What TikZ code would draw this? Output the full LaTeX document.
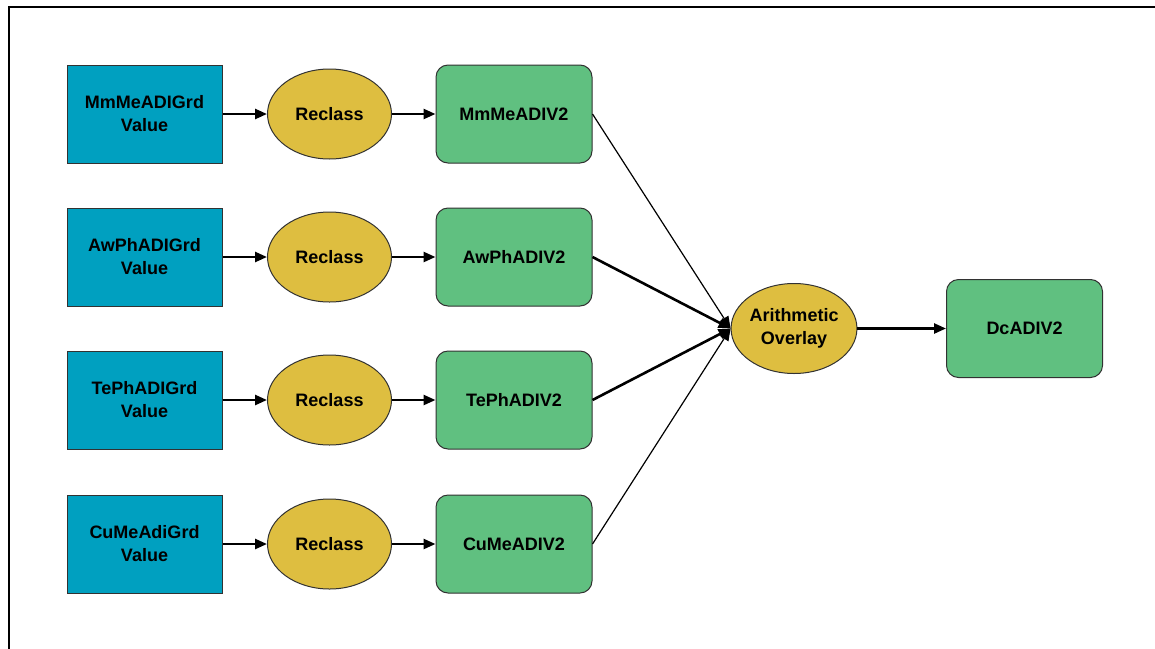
\documentclass[tikz,border=0pt]{standalone}
\usepackage{fontspec}
\setmainfont{Liberation Sans}
\usetikzlibrary{arrows.meta,shapes.geometric}
\definecolor{gridblue}{RGB}{0,160,192}
\definecolor{procyellow}{RGB}{222,190,64}
\definecolor{outgreen}{RGB}{96,192,128}
\definecolor{edgegray}{RGB}{50,50,50}
\tikzset{
  lbl/.style={font=\bfseries\fontsize{18}{23}\selectfont, align=center, text=black},
  gridbox/.style={lbl, draw=edgegray, line width=1pt, fill=gridblue, rectangle, minimum width=155pt, minimum height=98pt, inner sep=0pt},
  procell/.style={lbl, draw=edgegray, line width=1pt, fill=procyellow, ellipse, minimum width=124pt, minimum height=90pt, inner sep=0pt},
  outbox/.style={lbl, draw=edgegray, line width=1pt, fill=outgreen, rectangle, rounded corners=12pt, minimum width=156pt, minimum height=98pt, inner sep=0pt},
  flow/.style={line width=2.5pt, -{Triangle[length=12pt,width=10pt]}},
  thinflow/.style={line width=1.2pt, -{Triangle[length=12pt,width=10pt]}},
  thickflow/.style={line width=2.6pt, -{Triangle[length=12pt,width=10pt]}},
}
\begin{document}
\begin{tikzpicture}[x=1pt,y=-1pt]
\useasboundingbox (0,0) rectangle (1155,648);
\fill[white] (0,0) rectangle (1155,648);
\draw[line width=2.4pt] (9,700) -- (9,7) -- (1200,7);

\node[gridbox] (g1) at (144.5,114) {MmMeADIGrd\\Value};
\node[gridbox] (g2) at (144.5,257) {AwPhADIGrd\\Value};
\node[gridbox] (g3) at (144.5,400) {TePhADIGrd\\Value};
\node[gridbox] (g4) at (144.5,544) {CuMeAdiGrd\\Value};

\node[procell] (r1) at (329.5,114) {Reclass};
\node[procell] (r2) at (329.5,257) {Reclass};
\node[procell] (r3) at (329.5,400) {Reclass};
\node[procell] (r4) at (329.5,544) {Reclass};

\node[outbox] (o1) at (514,114) {MmMeADIV2};
\node[outbox] (o2) at (514,257) {AwPhADIV2};
\node[outbox] (o3) at (514,400) {TePhADIV2};
\node[outbox] (o4) at (514,544) {CuMeADIV2};

\node[procell] (ao) at (794,328.5) {Arithmetic\\Overlay};
\node[outbox] (dc) at (1024.5,328.5) {DcADIV2};

\foreach \i in {1,2,3,4}{
  \draw[flow] (g\i.east) -- (r\i.west);
  \draw[flow] (r\i.east) -- (o\i.west);
}
\draw[thinflow] (o1.east) -- (ao.west);
\draw[thickflow] (o2.east) -- (ao.west);
\draw[thickflow] (o3.east) -- (ao.west);
\draw[thinflow] (o4.east) -- (ao.west);
\draw[flow] (ao.east) -- (dc.west);
\end{tikzpicture}
\end{document}
